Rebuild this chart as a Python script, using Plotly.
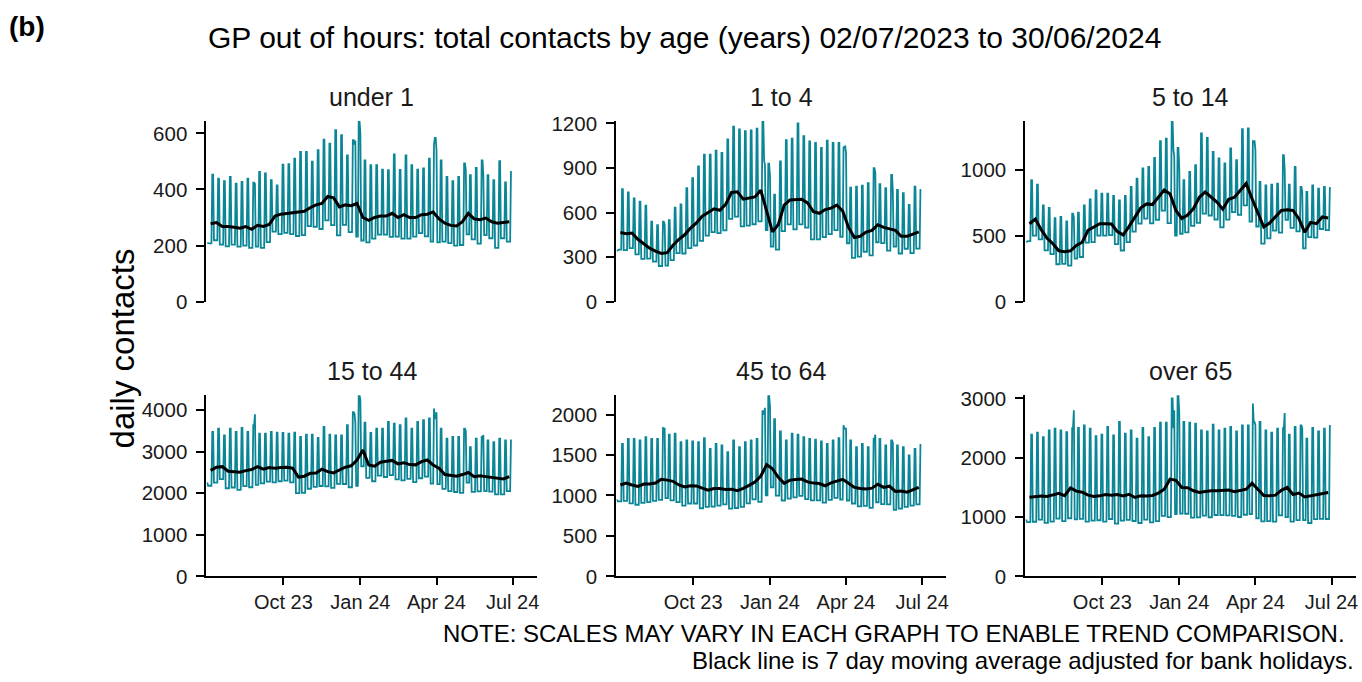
import datetime as dt
import plotly.graph_objects as go

# ---------------- text ----------------
TITLE = "GP out of hours: total contacts by age (years) 02/07/2023 to 30/06/2024"
PANEL_LETTER = "(b)"
Y_TITLE = "daily contacts"
NOTE_1 = "NOTE: SCALES MAY VARY IN EACH GRAPH TO ENABLE TREND COMPARISON."
NOTE_2 = "Black line is 7 day moving average adjusted for bank holidays."
PANELS = ["under 1", "1 to 4", "5 to 14", "15 to 44", "45 to 64", "over 65"]
X_TICK_DATES = ["2023-10-01", "2024-01-01", "2024-04-01", "2024-07-01"]
X_TICK_LABELS = ["Oct 23", "Jan 24", "Apr 24", "Jul 24"]
Y_DTICKS = [200, 300, 500, 1000, 500, 1000]

# ---------------- data ----------------
FIRST_DAY = "2023-07-02"
LAST_DAY = "2024-06-30"
FIRST_MA_DAY = "2023-07-06"
BANK_HOLIDAYS = ["2023-08-28", "2023-12-25", "2023-12-26", "2024-01-01",
                 "2024-03-29", "2024-04-01", "2024-05-06", "2024-05-27"]

# weekend values (index 0 = Sun 02/07/2023, then one value per Sat/Sun weekend)
UNDER1_HIGH = [210, 453, 439, 430, 445, 421, 427, 439, 424, 463, 457, 433, 415, 489, 490, 510, 534, 534, 499, 540, 578,
               564, 612, 594, 522, 576, 644, 504, 487, 487, 471, 469, 525, 470, 522, 487, 471, 475, 510, 584, 504,
               445, 430, 445, 493, 451, 477, 504, 451, 433, 501, 425, 463]
# weekday (Mon-Fri) values, one per week starting Mon 03/07/2023
UNDER1_LOW = [208, 219, 203, 197, 203, 196, 200, 192, 196, 192, 212, 250, 241, 245, 241, 234, 237, 269, 267, 259,
              290, 273, 236, 274, 248, 232, 218, 211, 225, 239, 239, 231, 232, 225, 225, 232, 244, 233, 214, 211,
              214, 209, 200, 202, 240, 222, 207, 237, 226, 192, 226, 214]
UNDER1_HOL = [420, 560, 575, 600, 560, 540, 470, 450]
UNDER1_AVG = [278, 282, 268, 268, 265, 262, 268, 258, 272, 268, 275, 305, 312, 315, 318, 320, 322, 335, 345, 350,
              375, 370, 338, 345, 342, 350, 300, 290, 300, 305, 305, 315, 300, 310, 300, 300, 310, 312, 320, 295,
              280, 272, 270, 285, 315, 295, 292, 298, 285, 280, 283, 285]

AGE1_4_HIGH = [340, 757, 735, 696, 674, 646, 538, 515, 538, 549, 633, 655, 764, 832, 911, 990, 990, 1017, 1001, 1092,
               1178, 1160, 1148, 1153, 1166, 1216, 930, 720, 945, 1087, 1098, 1200, 1114, 1080, 1069, 1035, 1085,
               1069, 1069, 1046, 768, 775, 782, 798, 899, 791, 764, 854, 753, 730, 651, 775, 753]
AGE1_4_LOW = [350, 347, 360, 318, 288, 289, 270, 240, 242, 279, 326, 324, 360, 378, 409, 444, 468, 461, 480, 558,
              572, 507, 512, 521, 540, 482, 370, 350, 475, 520, 486, 520, 499, 419, 419, 434, 454, 482, 436, 393,
              295, 303, 336, 312, 400, 394, 344, 371, 324, 356, 327, 357]
AGE1_4_HOL = [520, 950, 920, 850, 1040, 1000, 870, 740]
AGE1_4_AVG = [466, 458, 462, 420, 390, 360, 340, 325, 330, 380, 420, 450, 495, 530, 575, 600, 625, 615, 655, 735,
              740, 690, 695, 705, 750, 610, 470, 520, 650, 685, 690, 690, 665, 605, 595, 620, 630, 650, 610, 500,
              432, 440, 468, 480, 518, 500, 490, 480, 440, 440, 455, 470]

AGE5_14_HIGH = [450, 919, 886, 729, 709, 633, 641, 608, 666, 674, 729, 775, 843, 818, 818, 800, 767, 800, 868, 932,
                1008, 1020, 1089, 1215, 1235, 1367, 1165, 919, 982, 1033, 1273, 1240, 1134, 1084, 1046, 1160, 1071,
                1306, 1311, 1215, 906, 881, 886, 894, 1109, 886, 1020, 868, 830, 881, 856, 868, 861]
AGE5_14_LOW = [458, 500, 471, 388, 360, 283, 286, 273, 325, 338, 446, 451, 499, 499, 503, 435, 387, 451, 530, 591,
               628, 593, 620, 689, 594, 500, 514, 524, 574, 597, 666, 652, 622, 562, 621, 678, 658, 729, 606, 569,
               439, 479, 538, 522, 619, 558, 532, 403, 488, 484, 550, 542]
AGE5_14_HOL = [640, 1150, 1100, 1000, 1215, 1150, 1000, 830]
AGE5_14_AVG = [590, 625, 545, 480, 438, 385, 378, 385, 425, 450, 540, 563, 590, 590, 588, 530, 505, 570, 645, 710,
               740, 735, 790, 845, 815, 690, 630, 655, 705, 790, 830, 790, 754, 700, 775, 790, 843, 895, 780, 665,
               565, 595, 640, 690, 695, 690, 628, 525, 600, 590, 641, 633]

AGE15_44_HIGH = [2260, 3474, 3555, 3394, 3555, 3474, 3571, 3474, 3636, 3434, 3434, 3474, 3458, 3450, 3434, 3458, 3353,
                 3410, 3410, 3329, 3596, 3410, 3394, 3394, 3636, 3950, 4360, 3700, 3450, 3555, 3555, 3717, 3676, 3636,
                 3798, 3555, 3717, 3757, 3798, 3800, 3555, 3313, 3353, 3353, 3555, 3111, 3313, 3353, 3272, 3232, 3313,
                 3272, 3272]
AGE15_44_LOW = [2180, 2254, 2338, 2120, 2138, 2079, 2173, 2144, 2200, 2238, 2278, 2260, 2288, 2303, 2260, 2005, 2010,
                2108, 2153, 2174, 2164, 2127, 2226, 2222, 2144, 2176, 2650, 2372, 2288, 2424, 2391, 2436, 2335, 2310,
                2344, 2269, 2361, 2401, 2232, 2218, 2105, 2052, 2030, 2008, 2256, 2035, 2047, 2051, 2039, 1972, 1971,
                2051]
AGE15_44_HOL = [3900, 3920, 3700, 4250, 4040, 3950, 3500, 3400]
AGE15_44_AVG = [2550, 2626, 2640, 2530, 2520, 2505, 2545, 2570, 2640, 2580, 2620, 2602, 2620, 2626, 2602, 2390, 2410,
                2480, 2489, 2580, 2520, 2489, 2560, 2626, 2660, 2800, 3040, 2680, 2650, 2747, 2770, 2790, 2707, 2735,
                2690, 2683, 2760, 2800, 2680, 2600, 2450, 2424, 2408, 2450, 2500, 2400, 2420, 2400, 2380, 2355, 2343,
                2400]

AGE45_64_HIGH = [950, 1639, 1700, 1700, 1680, 1722, 1700, 1700, 1834, 1751, 1763, 1660, 1680, 1668, 1660, 1709, 1577,
                 1639, 1618, 1535, 1680, 1597, 1660, 1680, 1700, 2041, 2240, 1942, 1792, 1680, 1763, 1751, 1722, 1700,
                 1689, 1668, 1639, 1680, 1709, 1826, 1680, 1597, 1639, 1597, 1700, 1700, 1618, 1680, 1618, 1597, 1494,
                 1577, 1626]
AGE45_64_LOW = [926, 934, 902, 885, 909, 917, 934, 946, 966, 940, 918, 875, 901, 901, 842, 860, 863, 875, 891, 837,
                845, 858, 903, 951, 920, 1000, 1099, 997, 938, 961, 977, 995, 955, 939, 940, 912, 945, 971, 950, 938,
                901, 866, 872, 846, 916, 893, 889, 823, 838, 858, 874, 890]
AGE45_64_HOL = [1826, 2000, 2083, 2100, 1867, 1826, 1751, 1650]
AGE45_64_AVG = [1130, 1153, 1130, 1112, 1141, 1141, 1153, 1200, 1190, 1175, 1130, 1105, 1120, 1118, 1090, 1065, 1085,
                1087, 1075, 1078, 1060, 1087, 1125, 1165, 1240, 1380, 1330, 1224, 1150, 1190, 1198, 1203, 1168, 1153,
                1148, 1120, 1155, 1182, 1200, 1150, 1100, 1087, 1079, 1090, 1140, 1100, 1115, 1050, 1055, 1040, 1075,
                1100]

OVER65_HIGH = [960, 2389, 2422, 2349, 2462, 2490, 2462, 2434, 2500, 2502, 2547, 2490, 2366, 2389, 2519, 2377, 2604,
               2406, 2462, 2321, 2502, 2349, 2502, 2592, 2592, 3000, 3056, 2604, 2592, 2575, 2462, 2445, 2558, 2462,
               2490, 2519, 2445, 2547, 2547, 2600, 2604, 2462, 2422, 2490, 2500, 2389, 2519, 2547, 2321, 2502, 2445,
               2490, 2536]
OVER65_LOW = [913, 921, 957, 901, 922, 975, 930, 980, 960, 969, 922, 939, 946, 924, 967, 890, 939, 954, 934, 900,
              957, 910, 930, 1021, 1000, 1050, 1058, 1056, 990, 996, 1024, 997, 1035, 1034, 1029, 1021, 1001, 1039,
              1050, 980, 926, 932, 922, 1030, 1000, 924, 948, 948, 900, 964, 970, 967]
OVER65_HOL = [2802, 2500, 2800, 2750, 2915, 2550, 2756, 2500]
OVER65_AVG = [1335, 1350, 1355, 1347, 1370, 1400, 1360, 1490, 1438, 1420, 1370, 1347, 1358, 1380, 1370, 1380, 1358,
              1385, 1330, 1358, 1355, 1365, 1405, 1470, 1640, 1620, 1500, 1495, 1443, 1415, 1430, 1443, 1443, 1450,
              1455, 1428, 1443, 1470, 1573, 1470, 1365, 1358, 1370, 1450, 1500, 1380, 1405, 1340, 1358, 1387, 1404,
              1415]

SERIES = [
    (UNDER1_HIGH, UNDER1_LOW, UNDER1_HOL, UNDER1_AVG),
    (AGE1_4_HIGH, AGE1_4_LOW, AGE1_4_HOL, AGE1_4_AVG),
    (AGE5_14_HIGH, AGE5_14_LOW, AGE5_14_HOL, AGE5_14_AVG),
    (AGE15_44_HIGH, AGE15_44_LOW, AGE15_44_HOL, AGE15_44_AVG),
    (AGE45_64_HIGH, AGE45_64_LOW, AGE45_64_HOL, AGE45_64_AVG),
    (OVER65_HIGH, OVER65_LOW, OVER65_HOL, OVER65_AVG),
]


def daily(high, low, hol):
    start = dt.date.fromisoformat(FIRST_DAY)
    end = dt.date.fromisoformat(LAST_DAY)
    holmap = {dt.date.fromisoformat(d): v for d, v in zip(BANK_HOLIDAYS, hol)}
    xs, ys = [], []
    d = start
    while d <= end:
        n = (d - start).days
        if d in holmap:
            v = holmap[d]
        elif d.weekday() >= 5:
            v = high[(n + 1) // 7]
        else:
            v = low[(n - 1) // 7]
        xs.append(d.isoformat())
        ys.append(v)
        d += dt.timedelta(days=1)
    return xs, ys


def ma_dates(n):
    s = dt.date.fromisoformat(FIRST_MA_DAY)
    return [(s + dt.timedelta(days=7 * i)).isoformat() for i in range(n)]


# ---------------- styling / placement ----------------
FONT = "Liberation Sans, Arial, sans-serif"
TEAL = "#0b8696"
TXT = "#1a1a1a"
W, H = 1362, 682
# calibration of the photographed page (observed: rendered = S * specified + B)
SX, BX = 0.995, 1.0
SY, BY = 0.968, 10.9


def px_x(p):
    return ((p - BX) / SX) / W


def px_y(p):
    return 1 - ((p - BY) / SY) / H


COL_PX = [(206.7, 536.0), (615.0, 944.0), (1022.7, 1352.0)]
ROW_PX = [(302.7, 122.7), (576.7, 396.0)]
COL_DOM = [(px_x(a), px_x(b)) for a, b in COL_PX]
ROW_DOM = [(px_y(a), px_y(b)) for a, b in ROW_PX]
PANEL_TITLE_Y = [px_y(98.6), px_y(371.6)]
X_RANGE = ["2023-07-01", "2024-07-30"]

fig = go.Figure()
layout = dict(
    width=W, height=H, autosize=False,
    margin=dict(l=0, r=0, t=0, b=0),
    paper_bgcolor="white", plot_bgcolor="white",
    showlegend=False, hovermode=False,
    font=dict(family=FONT, color=TXT),
)
annotations = []

for i, (name, (high, low, hol, avg)) in enumerate(zip(PANELS, SERIES)):
    r, c = divmod(i, 3)
    sfx = "" if i == 0 else str(i + 1)
    xs, ys = daily(high, low, hol)
    fig.add_trace(go.Scatter(x=xs, y=ys, mode="lines", line=dict(color=TEAL, width=1.8),
                             xaxis="x" + sfx, yaxis="y" + sfx))
    fig.add_trace(go.Scatter(x=ma_dates(len(avg)), y=avg, mode="lines", line=dict(color="black", width=3),
                             xaxis="x" + sfx, yaxis="y" + sfx))
    ymax = max(max(high), max(low), max(hol), max(avg))
    bottom = (r == 1)
    layout["xaxis" + sfx] = dict(
        domain=list(COL_DOM[c]), anchor="y" + sfx, type="date", range=X_RANGE,
        showgrid=False, zeroline=False,
        showline=bottom, linecolor="black", linewidth=2,
        ticks="outside" if bottom else "", ticklen=7, tickwidth=2, tickcolor="black",
        showticklabels=bottom, tickvals=X_TICK_DATES, ticktext=X_TICK_LABELS,
        tickfont=dict(size=20, color=TXT, family=FONT),
    )
    layout["yaxis" + sfx] = dict(
        domain=list(ROW_DOM[r]), anchor="x" + sfx, range=[0, ymax],
        showgrid=False, zeroline=False,
        showline=True, linecolor="black", linewidth=2,
        ticks="outside", ticklen=8, tickwidth=2, tickcolor="black",
        ticklabelstandoff=5,
        tick0=0, dtick=Y_DTICKS[i], tickformat="d",
        tickfont=dict(size=20.5, color=TXT, family=FONT),
    )
    annotations.append(dict(
        text=name, x=(COL_DOM[c][0] + COL_DOM[c][1]) / 2, y=PANEL_TITLE_Y[r],
        xref="paper", yref="paper", xanchor="center", yanchor="middle", showarrow=False,
        font=dict(size=25, color=TXT, family=FONT)))

annotations += [
    dict(text=TITLE, x=px_x(683.5), y=px_y(39.0), xref="paper", yref="paper", xanchor="center",
         yanchor="middle", showarrow=False, font=dict(size=30, color="black", family=FONT)),
    dict(text="<b>" + PANEL_LETTER + "</b>", x=px_x(8.0), y=px_y(28.5), xref="paper", yref="paper",
         xanchor="left", yanchor="middle", showarrow=False, font=dict(size=28, color="black", family=FONT)),
    dict(text=Y_TITLE, x=px_x(123.0), y=px_y(349.0), xref="paper", yref="paper", xanchor="center",
         yanchor="middle", textangle=-90, showarrow=False, font=dict(size=33, color="black", family=FONT)),
    dict(text=NOTE_1, x=px_x(1343.0), y=px_y(634.0), xref="paper", yref="paper", xanchor="right",
         yanchor="middle", showarrow=False, font=dict(size=24, color="black", family=FONT)),
    dict(text=NOTE_2, x=px_x(1352.0), y=px_y(661.0), xref="paper", yref="paper", xanchor="right",
         yanchor="middle", showarrow=False, font=dict(size=24, color="black", family=FONT)),
]
layout["annotations"] = annotations
fig.update_layout(**layout)

PAGE_FIX = (
    "document.documentElement.style.margin='0px';"
    "document.body.style.margin='0px';"
)
fig.write_html("out.html", config={"displayModeBar": False}, post_script=PAGE_FIX)
